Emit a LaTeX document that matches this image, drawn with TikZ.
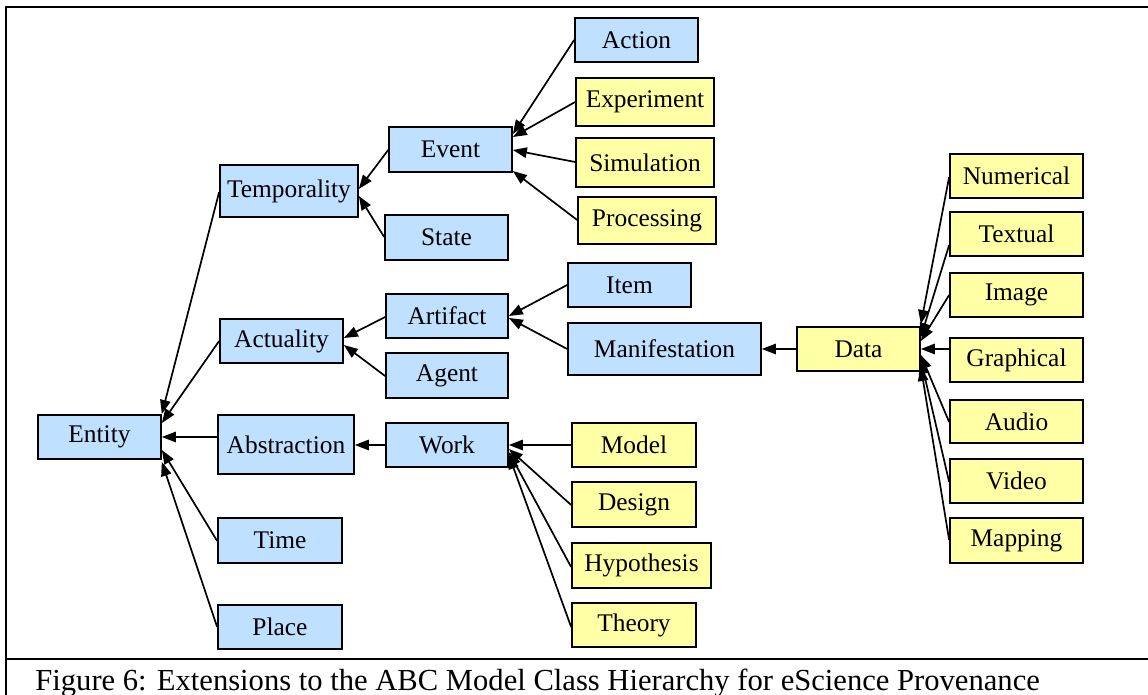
\documentclass[tikz,border=0pt]{standalone}
\usepackage{fontspec}
\setmainfont{Liberation Serif}
\usetikzlibrary{arrows.meta}
\definecolor{boxblue}{RGB}{191,224,255}
\definecolor{boxyellow}{RGB}{255,255,165}
\tikzset{
  cls/.style={draw=black, line width=0.85pt, inner sep=0pt, font=\fontsize{12.7}{15}\selectfont},
  bluebox/.style={cls, fill=boxblue},
  yellowbox/.style={cls, fill=boxyellow},
  isa/.style={line width=0.85pt, -{Triangle[length=7pt,width=5.2pt]}},
  frameline/.style={line width=1.3pt}
}
\begin{document}
\begin{tikzpicture}[x=0.5pt, y=-0.5pt]
\useasboundingbox (0,0) rectangle (1148,695);
% frame
\coordinate (ftl) at (6,7);
\coordinate (ftr) at (1148,7);
\coordinate (fbl) at (6,695);
\coordinate (fdl) at (6,659);
\coordinate (fdr) at (1148,659);
\draw[frameline] (fbl) -- (ftl) -- (ftr);
\draw[frameline] (fdl) -- (fdr);
\node[anchor=base west, inner sep=0pt, font=\fontsize{15.3}{18}\selectfont] (caption) at (35,690) {Figure 6: Extensions to the ABC Model Class Hierarchy for eScience Provenance};

% nodes
\node[bluebox, minimum width=61.5pt, minimum height=22pt] (entity) at (99.5,437) {Entity};
\node[bluebox, minimum width=69pt, minimum height=26pt] (temporality) at (289,191) {Temporality};
\node[bluebox, minimum width=61.5pt, minimum height=22pt] (actuality) at (281.5,341) {Actuality};
\node[bluebox, minimum width=68pt, minimum height=29.5pt] (abstraction) at (286,444.5) {Abstraction};
\node[bluebox, minimum width=62pt, minimum height=22.5pt] (time) at (280,540.5) {Time};
\node[bluebox, minimum width=62pt, minimum height=22pt] (place) at (280,627) {Place};
\node[bluebox, minimum width=61.5pt, minimum height=22.5pt] (event) at (450.5,149.5) {Event};
\node[bluebox, minimum width=61.5pt, minimum height=22.5pt] (state) at (446.5,237.5) {State};
\node[bluebox, minimum width=61pt, minimum height=22pt] (artifact) at (447,316) {Artifact};
\node[bluebox, minimum width=61pt, minimum height=22.5pt] (agent) at (447,375.5) {Agent};
\node[bluebox, minimum width=61pt, minimum height=22pt] (work) at (447,445) {Work};
\node[bluebox, minimum width=61.5pt, minimum height=22pt] (action) at (636.5,40) {Action};
\node[yellowbox, minimum width=69pt, minimum height=24pt] (experiment) at (645,102) {Experiment};
\node[yellowbox, minimum width=69pt, minimum height=24.5pt] (simulation) at (645,162.5) {Simulation};
\node[yellowbox, minimum width=69pt, minimum height=23.5pt] (processing) at (647,220.5) {Processing};
\node[bluebox, minimum width=61.5pt, minimum height=22pt] (item) at (629.5,285) {Item};
\node[bluebox, minimum width=96.5pt, minimum height=26pt] (manifestation) at (664.5,349) {Manifestation};
\node[yellowbox, minimum width=62pt, minimum height=22pt] (model) at (634,445) {Model};
\node[yellowbox, minimum width=62pt, minimum height=22.5pt] (design) at (634,504.5) {Design};
\node[yellowbox, minimum width=69.5pt, minimum height=22.5pt] (hypothesis) at (641.5,565.5) {Hypothesis};
\node[yellowbox, minimum width=62pt, minimum height=22pt] (theory) at (634,625) {Theory};
\node[yellowbox, minimum width=61.5pt, minimum height=22pt] (data) at (858.5,349) {Data};
\node[yellowbox, minimum width=66.5pt, minimum height=22pt] (numerical) at (1016.5,176) {Numerical};
\node[yellowbox, minimum width=66.5pt, minimum height=22pt] (textual) at (1016.5,234) {Textual};
\node[yellowbox, minimum width=66.5pt, minimum height=22pt] (image) at (1016.5,295) {Image};
\node[yellowbox, minimum width=66.5pt, minimum height=22pt] (graphical) at (1016.5,360) {Graphical};
\node[yellowbox, minimum width=66.5pt, minimum height=21.5pt] (audio) at (1016.5,421.5) {Audio};
\node[yellowbox, minimum width=66.5pt, minimum height=22pt] (video) at (1016.5,481) {Video};
\node[yellowbox, minimum width=66.5pt, minimum height=22.5pt] (mapping) at (1016.5,540.5) {Mapping};

% edges
\draw[isa] (action.west |- 0,40) -- (event.east |- 0,134);
\draw[isa] (experiment.west |- 0,102) -- (event.east |- 0,137);
\draw[isa] (simulation.west |- 0,162) -- (event.east |- 0,150);
\draw[isa] (processing.west |- 0,220) -- (event.east |- 0,171);
\draw[isa] (event.west |- 0,150) -- (temporality.east |- 0,189);
\draw[isa] (state.west |- 0,237) -- (temporality.east |- 0,196);
\draw[isa] (temporality.west |- 0,192) -- (entity.east |- 0,414);
\draw[isa] (actuality.west |- 0,341) -- (entity.east |- 0,423);
\draw[isa] (abstraction.west |- 0,437) -- (entity.east |- 0,437);
\draw[isa] (time.west |- 0,541) -- (entity.east |- 0,450);
\draw[isa] (place.west |- 0,627) -- (entity.east |- 0,462);
\draw[isa] (artifact.west |- 0,317) -- (actuality.east |- 0,338);
\draw[isa] (agent.west |- 0,376) -- (actuality.east |- 0,345);
\draw[isa] (item.west |- 0,285) -- (artifact.east |- 0,316);
\draw[isa] (manifestation.west |- 0,349) -- (artifact.east |- 0,318);
\draw[isa] (data.west |- 0,349) -- (manifestation.east |- 0,349);
\draw[isa] (work.west |- 0,445) -- (abstraction.east |- 0,445);
\draw[isa] (model.west |- 0,445) -- (work.east |- 0,445);
\draw[isa] (design.west |- 0,505) -- (work.east |- 0,449);
\draw[isa] (hypothesis.west |- 0,567) -- (work.east |- 0,452);
\draw[isa] (theory.west |- 0,627) -- (work.east |- 0,455);
\draw[isa] (numerical.west |- 0,177) -- (data.east |- 0,324);
\draw[isa] (textual.west |- 0,245) -- (data.east |- 0,337);
\draw[isa] (image.west |- 0,295) -- (data.east |- 0,341);
\draw[isa] (graphical.west |- 0,349) -- (data.east |- 0,349);
\draw[isa] (audio.west |- 0,422) -- (data.east |- 0,355);
\draw[isa] (video.west |- 0,482) -- (data.east |- 0,360);
\draw[isa] (mapping.west |- 0,540) -- (data.east |- 0,367);
\end{tikzpicture}
\end{document}
